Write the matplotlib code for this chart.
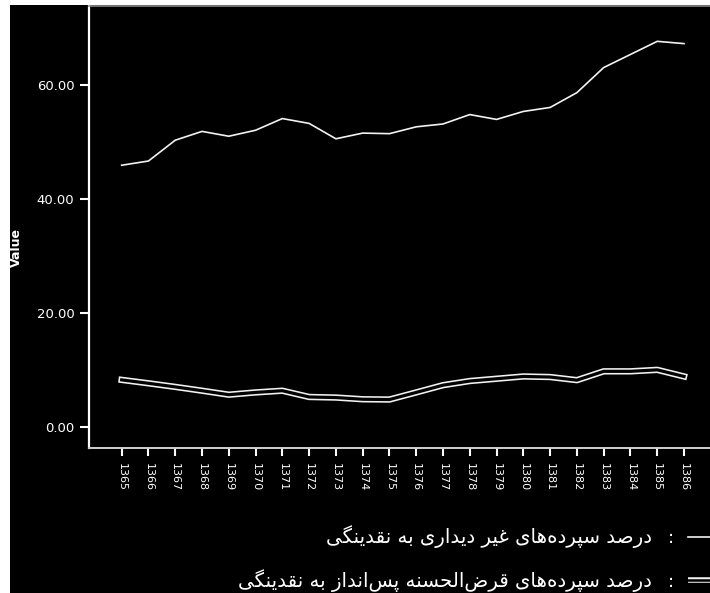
import numpy as np
import matplotlib.pyplot as plt
from matplotlib.lines import Line2D
from matplotlib.patches import Rectangle

years = list(range(1365, 1387))
year_labels = [str(y) for y in years]

# percentage of non-sight deposits to liquidity
non_sight = [45.96, 46.7, 50.35, 51.9, 51.05, 52.1, 54.15, 53.3, 50.6, 51.6, 51.5,
             52.7, 53.2, 54.85, 54.0, 55.4, 56.1, 58.7, 63.1, 65.4, 67.7, 67.3]
# percentage of qard-al-hasan savings deposits to liquidity
qard_hasan = [8.3, 7.7, 7.07, 6.4, 5.7, 6.1, 6.4, 5.3, 5.2, 4.9, 4.85,
              6.1, 7.37, 8.1, 8.5, 8.9, 8.8, 8.25, 9.8, 9.8, 10.06, 8.9]

y_ticks = [0, 20, 40, 60]
y_tick_labels = ['0.00', '20.00', '40.00', '60.00']

label_1 = 'درصد سپرده\u200cهای غیر دیداری به نقدینگی'
label_2 = 'درصد سپرده\u200cهای قرض\u200cالحسنه پس\u200cانداز به نقدینگی'

# presentation forms: isolated, final, initial, medial
FORMS = {
    'ا': ('\uFE8D', '\uFE8E', None, None),
    'ب': ('\uFE8F', '\uFE90', '\uFE91', '\uFE92'),
    'پ': ('\uFB56', '\uFB57', '\uFB58', '\uFB59'),
    'ح': ('\uFEA1', '\uFEA2', '\uFEA3', '\uFEA4'),
    'د': ('\uFEA9', '\uFEAA', None, None),
    'ر': ('\uFEAD', '\uFEAE', None, None),
    'ز': ('\uFEAF', '\uFEB0', None, None),
    'س': ('\uFEB1', '\uFEB2', '\uFEB3', '\uFEB4'),
    'ص': ('\uFEB9', '\uFEBA', '\uFEBB', '\uFEBC'),
    'ض': ('\uFEBD', '\uFEBE', '\uFEBF', '\uFEC0'),
    'غ': ('\uFECD', '\uFECE', '\uFECF', '\uFED0'),
    'ق': ('\uFED5', '\uFED6', '\uFED7', '\uFED8'),
    'ل': ('\uFEDD', '\uFEDE', '\uFEDF', '\uFEE0'),
    'ن': ('\uFEE5', '\uFEE6', '\uFEE7', '\uFEE8'),
    'ه': ('\uFEE9', '\uFEEA', '\uFEEB', '\uFEEC'),
    'گ': ('\uFB92', '\uFB93', '\uFB94', '\uFB95'),
    'ی': ('\uFBFC', '\uFBFD', '\uFBFE', '\uFBFF'),
}


def shape_rtl(text):
    # join letters into contextual forms and flip to visual order
    out = []
    n = len(text)
    for i, ch in enumerate(text):
        if ch not in FORMS:
            if ch != '\u200c':
                out.append(ch)
            continue
        iso, fin, ini, med = FORMS[ch]
        prev_ch = text[i - 1] if i > 0 else ''
        next_ch = text[i + 1] if i < n - 1 else ''
        join_prev = prev_ch in FORMS and FORMS[prev_ch][2] is not None
        join_next = next_ch in FORMS and ini is not None
        if join_prev and join_next:
            out.append(med)
        elif join_prev:
            out.append(fin)
        elif join_next:
            out.append(ini)
        else:
            out.append(iso)
    return ''.join(out)[::-1]


W, H = 710, 593
fig = plt.figure(figsize=(W / 100, H / 100), dpi=100, facecolor='white')
fig.patches.append(Rectangle((10 / W, 0), 1, 1 - 5 / H, transform=fig.transFigure,
                             facecolor='black', edgecolor='none', zorder=-5))

ax = fig.add_axes([89 / W, 1 - 447.7 / H, 1 - 89 / W, (447.7 - 6) / H])
ax.set_facecolor('black')

ax.plot(years, non_sight, color='#f2f2f2', lw=1.2, solid_joinstyle='round')
ax.plot(years, qard_hasan, color='#f2f2f2', lw=4.6, solid_joinstyle='round')
ax.plot(years, qard_hasan, color='black', lw=2.3, solid_joinstyle='round')

ax.set_xlim(1363.78, 1386.97)
ax.set_ylim(-3.6, 73.9)
ax.set_xticks(years)
ax.set_xticklabels(year_labels, rotation=-90, fontsize=8, color='white',
                   family='DejaVu Sans')
ax.set_yticks(y_ticks)
ax.set_yticklabels(y_tick_labels, fontsize=9.5, color='white', family='DejaVu Sans')
ax.tick_params(axis='x', length=6, width=1.5, color='white', pad=5)
ax.tick_params(axis='y', length=6.5, width=1.5, color='white', pad=4)

ax.set_ylabel('Value', fontsize=9, fontweight='bold', color='white')
ax.yaxis.set_label_coords(-0.1056, 0.454)

ax.spines['left'].set_color('white')
ax.spines['left'].set_linewidth(1.6)
ax.spines['bottom'].set_color('#d0d0d0')
ax.spines['bottom'].set_linewidth(1.4)
ax.spines['top'].set_color('#8a8a8a')
ax.spines['top'].set_linewidth(1.2)
ax.spines['right'].set_visible(False)

# legend drawn right-to-left: handle, colon, label
rows = [(label_1, 543), (label_2, 587)]
for k, (txt, ybase) in enumerate(rows):
    yf = 1 - ybase / H
    fig.text(652 / W, yf, shape_rtl(txt), ha='right', va='baseline',
             fontsize=14.2, color='white', family='DejaVu Sans')
    fig.text(671 / W, yf, ':', ha='center', va='baseline',
             fontsize=13, color='white', family='DejaVu Sans')
yl1 = 1 - 537 / H
yl2 = 1 - 580 / H
fig.lines.append(Line2D([688 / W, 1.02], [yl1, yl1], transform=fig.transFigure,
                        color='#f2f2f2', lw=1.2))
fig.lines.append(Line2D([688 / W, 1.02], [yl2, yl2], transform=fig.transFigure,
                        color='#f2f2f2', lw=4.0, solid_capstyle='butt'))
fig.lines.append(Line2D([686 / W, 1.02], [yl2, yl2], transform=fig.transFigure,
                        color='black', lw=1.8, solid_capstyle='butt'))

fig.savefig('out.png', dpi=100, facecolor=fig.get_facecolor())
